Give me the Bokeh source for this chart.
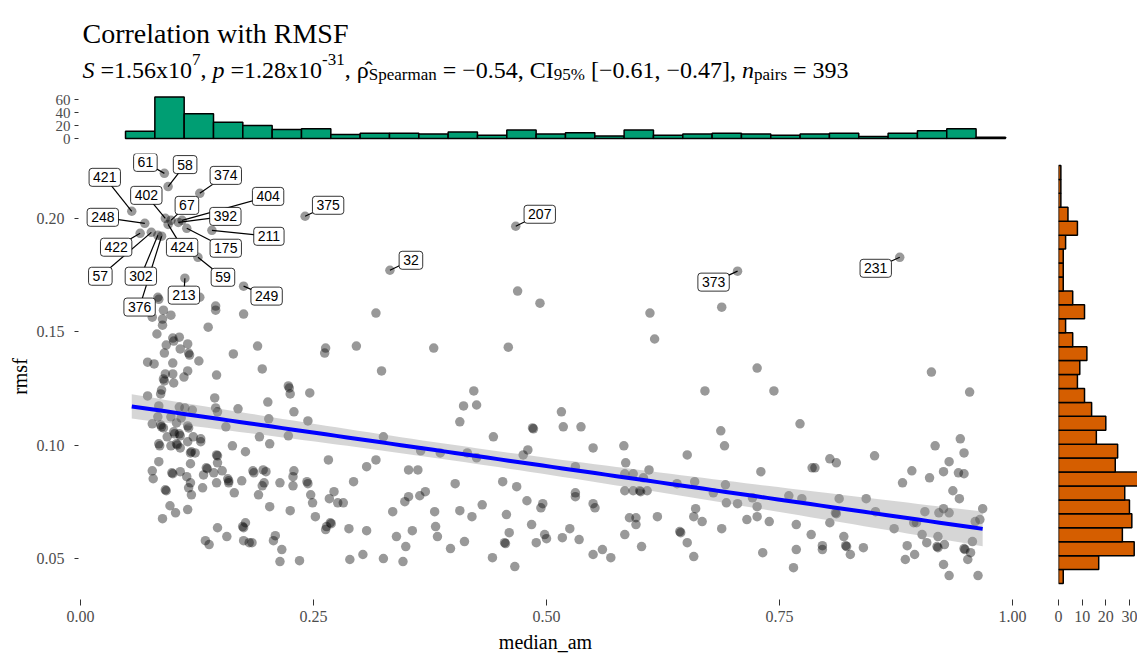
import numpy as np
from bokeh.plotting import figure
from bokeh.layouts import column, row
from bokeh.models import Range1d, FixedTicker, NumeralTickFormatter, Label
from bokeh.embed import file_html
from bokeh.resources import INLINE

# ---------------- data ----------------
# the first 24 points are the labelled ones (ids in label_ids)
label_ids = ["61", "58", "374", "421", "402", "67", "392", "404", "248", "424", "175", "211",
             "422", "57", "302", "376", "59", "213", "249", "375", "32", "207", "373", "231"]

median_am = [
    # labelled
    0.090, 0.094, 0.128, 0.055, 0.091, 0.097, 0.105, 0.109, 0.069, 0.094, 0.114, 0.141,
    0.064, 0.076, 0.083, 0.087, 0.126, 0.112, 0.175, 0.241, 0.332, 0.467, 0.705, 0.879,
    # upper-left
    0.083, 0.084, 0.128, 0.145, 0.145, 0.175, 0.089, 0.097, 0.077, 0.088, 0.088, 0.137, 0.317,
    0.082, 0.099, 0.106, 0.100, 0.092, 0.107, 0.115, 0.116, 0.117, 0.090,
    0.127, 0.072, 0.079, 0.099, 0.164, 0.115, 0.111, 0.099, 0.091, 0.089,
    0.090, 0.100, 0.146, 0.087, 0.086, 0.072, 0.144, 0.084, 0.106, 0.112,
    0.120, 0.145, 0.147, 0.169, 0.077, 0.083, 0.097, 0.108, 0.103, 0.086,
    0.087, 0.089, 0.115, 0.116, 0.156, 0.093, 0.100, 0.101, 0.106, 0.107,
    0.121, 0.129,
    # lower-left
    0.084, 0.085, 0.097, 0.103, 0.104, 0.107, 0.118, 0.119, 0.123, 0.115,
    0.129, 0.146, 0.147, 0.163, 0.177, 0.118, 0.084, 0.077, 0.078, 0.098,
    0.099, 0.107, 0.114, 0.135, 0.136, 0.132, 0.147, 0.143, 0.152, 0.146,
    0.158, 0.159, 0.159, 0.173, 0.165, 0.118, 0.116, 0.091, 0.092, 0.119,
    0.131, 0.096, 0.102, 0.088, 0.115, 0.147, 0.157, 0.134, 0.138, 0.177,
    0.174, 0.175, 0.175, 0.181,
    # 0.18 - 0.34
    0.190, 0.263, 0.262, 0.296, 0.195, 0.323, 0.223, 0.224, 0.225, 0.246,
    0.201, 0.229, 0.202, 0.244, 0.192, 0.203, 0.223, 0.325, 0.266, 0.307,
    0.317, 0.185, 0.186, 0.196, 0.199, 0.229, 0.228, 0.197, 0.195, 0.214,
    0.228, 0.243, 0.244, 0.191, 0.247, 0.249, 0.272, 0.267, 0.276, 0.282,
    0.293, 0.203, 0.225, 0.252, 0.268, 0.269, 0.264, 0.263, 0.288, 0.307,
    0.335, 0.339, 0.184, 0.209, 0.207, 0.216, 0.214, 0.235, 0.289, 0.303,
    0.325,
    # 0.34 - 0.70
    0.469, 0.493, 0.379, 0.459, 0.611, 0.616, 0.688, 0.422, 0.411, 0.425,
    0.407, 0.443, 0.485, 0.486, 0.516, 0.518, 0.537, 0.670, 0.687, 0.691,
    0.550, 0.583, 0.585, 0.651, 0.610, 0.593, 0.584, 0.365, 0.386, 0.415,
    0.425, 0.475, 0.480, 0.531, 0.352, 0.362, 0.402, 0.453, 0.468, 0.531,
    0.531, 0.550, 0.552, 0.584, 0.593, 0.600, 0.601, 0.608, 0.604, 0.640,
    0.659, 0.679, 0.692, 0.693, 0.348, 0.352, 0.364, 0.370, 0.380, 0.407,
    0.420, 0.431, 0.479, 0.494, 0.496, 0.457, 0.381, 0.383, 0.356, 0.349,
    0.346, 0.397, 0.412, 0.442, 0.466, 0.455, 0.456, 0.460, 0.484, 0.489,
    0.498, 0.500, 0.517, 0.525, 0.535, 0.550, 0.560, 0.569, 0.584, 0.589,
    0.596, 0.596, 0.602, 0.619, 0.643, 0.644, 0.651, 0.658, 0.660, 0.658,
    0.667, 0.688,
    # 0.70 - 0.97
    0.726, 0.744, 0.772, 0.913, 0.954, 0.730, 0.785, 0.788, 0.804, 0.811,
    0.852, 0.917, 0.944, 0.948, 0.932, 0.926, 0.942, 0.948, 0.892, 0.882,
    0.911, 0.936, 0.943, 0.705, 0.721, 0.726, 0.726, 0.715, 0.739, 0.760,
    0.774, 0.814, 0.843, 0.810, 0.811, 0.804, 0.768, 0.732, 0.768, 0.765,
    0.784, 0.796, 0.796, 0.819, 0.821, 0.822, 0.826, 0.840, 0.853, 0.873,
    0.887, 0.895, 0.885, 0.894, 0.897, 0.906, 0.903, 0.908, 0.920, 0.919,
    0.920, 0.927, 0.926, 0.932, 0.921, 0.926, 0.932, 0.948, 0.949, 0.955,
    0.952, 0.957, 0.960, 0.965, 0.968, 0.963,
]

rmsf = [
    # labelled
    0.2198, 0.2140, 0.2110, 0.2031, 0.2000, 0.1991, 0.1982, 0.1991, 0.1978, 0.1973, 0.1956, 0.1947,
    0.1934, 0.1938, 0.1925, 0.1921, 0.1828, 0.1736, 0.1701, 0.2009, 0.1771, 0.1965, 0.1767, 0.1828,
    # upper-left
    0.1652, 0.1643, 0.1652, 0.1613, 0.1595, 0.1578, 0.1595, 0.1573, 0.1564, 0.1556, 0.1529, 0.1520, 0.1582,
    0.1490, 0.1472, 0.1476, 0.1459, 0.1441, 0.1424, 0.1446, 0.1406, 0.1397, 0.1406,
    0.1371, 0.1366, 0.1358, 0.1362, 0.1402, 0.1327, 0.1300, 0.1314, 0.1314, 0.1292,
    0.1283, 0.1274, 0.1309, 0.1243, 0.1226, 0.1217, 0.1208, 0.1173, 0.1168, 0.1164,
    0.1155, 0.1164, 0.1147, 0.1160, 0.1094, 0.1125, 0.1125, 0.1120, 0.1098, 0.1089,
    0.1081, 0.1076, 0.1085, 0.1076, 0.1081, 0.1037, 0.1059, 0.1050, 0.1050, 0.1041,
    0.1037, 0.1028,
    # lower-left
    0.1006, 0.0997, 0.0997, 0.1006, 0.1001, 0.0988, 0.0966, 0.0971, 0.0966, 0.1015,
    0.1015, 0.0957, 0.0953, 0.0997, 0.0971, 0.0918, 0.0927, 0.0887, 0.0852, 0.0878,
    0.0874, 0.0883, 0.0861, 0.0900, 0.0896, 0.0869, 0.0922, 0.0878, 0.0887, 0.0834,
    0.0852, 0.0843, 0.0834, 0.0843, 0.0790, 0.0834, 0.0812, 0.0803, 0.0799, 0.0781,
    0.0812, 0.0733, 0.0702, 0.0676, 0.0716, 0.0636, 0.0597, 0.0579, 0.0562, 0.0658,
    0.0641, 0.0636, 0.0579, 0.0570,
    # 0.18 - 0.34
    0.1437, 0.1428, 0.1406, 0.1437, 0.1336, 0.1327, 0.1261, 0.1252, 0.1226, 0.1230,
    0.1190, 0.1147, 0.1116, 0.1107, 0.1037, 0.1006, 0.1041, 0.1037, 0.0935, 0.0905,
    0.0935, 0.0887, 0.0878, 0.0891, 0.0883, 0.0887, 0.0861, 0.0834, 0.0821, 0.0834,
    0.0821, 0.0839, 0.0830, 0.0781, 0.0781, 0.0746, 0.0795, 0.0764, 0.0746, 0.0746,
    0.0839, 0.0729, 0.0711, 0.0685, 0.0658, 0.0654, 0.0641, 0.0628, 0.0632, 0.0623,
    0.0707, 0.0597, 0.0570, 0.0601, 0.0579, 0.0540, 0.0487, 0.0491, 0.0496, 0.0518,
    0.0500,
    # 0.34 - 0.70
    0.1679, 0.1626, 0.1428, 0.1432, 0.1582, 0.1468, 0.1608, 0.1239, 0.1173, 0.1177,
    0.1103, 0.1037, 0.1076, 0.1072, 0.1147, 0.1081, 0.1081, 0.1239, 0.1063, 0.0997,
    0.0988, 0.0997, 0.0922, 0.0957, 0.0891, 0.0874, 0.0874, 0.0975, 0.0966, 0.0966,
    0.0944, 0.0957, 0.0979, 0.0905, 0.0891, 0.0891, 0.0830, 0.0839, 0.0817, 0.0790,
    0.0773, 0.0742, 0.0724, 0.0799, 0.0799, 0.0799, 0.0795, 0.0799, 0.0856, 0.0830,
    0.0839, 0.0790, 0.0825, 0.0746, 0.0751, 0.0773, 0.0777, 0.0795, 0.0707, 0.0711,
    0.0685, 0.0737, 0.0755, 0.0724, 0.0742, 0.0694, 0.0641, 0.0597, 0.0623, 0.0553,
    0.0487, 0.0544, 0.0575, 0.0504, 0.0465, 0.0570, 0.0566, 0.0614, 0.0650, 0.0570,
    0.0606, 0.0588, 0.0592, 0.0632, 0.0584, 0.0518, 0.0540, 0.0504, 0.0606, 0.0680,
    0.0680, 0.0650, 0.0553, 0.0685, 0.0619, 0.0614, 0.0570, 0.0509, 0.0720, 0.0685,
    0.0663, 0.0632,
    # 0.70 - 0.97
    0.1340, 0.1239, 0.1094, 0.1322, 0.1234, 0.0883, 0.0900, 0.0900, 0.0940, 0.0922,
    0.0953, 0.0997, 0.1028, 0.0966, 0.0927, 0.0883, 0.0878, 0.0874, 0.0887, 0.0834,
    0.0856, 0.0799, 0.0764, 0.0742, 0.0768, 0.0729, 0.0685, 0.0672, 0.0663, 0.0777,
    0.0764, 0.0764, 0.0764, 0.0702, 0.0698, 0.0658, 0.0650, 0.0526, 0.0540, 0.0460,
    0.0606, 0.0557, 0.0540, 0.0597, 0.0557, 0.0553, 0.0518, 0.0548, 0.0707, 0.0632,
    0.0557, 0.0518, 0.0496, 0.0658, 0.0658, 0.0707, 0.0606, 0.0570, 0.0597, 0.0553,
    0.0548, 0.0562, 0.0474, 0.0425, 0.0702, 0.0720, 0.0702, 0.0544, 0.0540, 0.0526,
    0.0496, 0.0575, 0.0663, 0.0672, 0.0720, 0.0425,
]

# marginal histogram counts (30 bins each)
top_counts = [11, 64, 38, 25, 20, 14, 15, 6, 8, 8, 7, 10, 5, 13, 7, 9, 4, 13, 5, 7,
              8, 7, 5, 7, 8, 3, 8, 12, 15, 2]
top_bin_start = 0.0483
top_bin_width = 0.03147

# listed from the lowest rmsf bin to the highest
right_counts = [2, 17, 32, 27, 31, 30, 28, 35, 24, 25, 16, 20, 14, 11, 8, 9, 12, 6, 3, 11,
                6, 2, 2, 2, 3, 8, 4, 1, 1, 1]
right_bin_start = 0.0390
right_bin_width = 0.006143

x_ticks = [0.0, 0.25, 0.5, 0.75, 1.0]
y_ticks = [0.05, 0.10, 0.15, 0.20]
top_ticks = [0, 20, 40, 60]
right_ticks = [0, 10, 20, 30]

title_text = "Correlation with RMSF"

# ---------------- layout / style ----------------
SERIF = "Liberation Serif"
SANS = "Liberation Sans"
TICK_COLOR = "#4D4D4D"
PX_PER_X = 932.0      # px per unit of median_am
PX_PER_Y = 2274.0     # px per unit of rmsf

# label box offsets from the labelled point (px, +dx right, +dy down), in label_ids order
label_dx = [-19, 17, 26, -27, -19, 16, 47, 86, -42, 14, 39, 57,
            -24, -51, -17, -22, 25, -1, 23, 23, 21, 24, -24, -24]
label_dy = [-11, -22, -18, -34, -23, -15, -6, -24, -6, 23, 20, 6,
            14, 44, 41, 71, 20, 17, 10, -11, -10, -12, 11, 11]


def style_axis(ax, tick_out=5, standoff=5):
    ax.axis_line_color = None
    ax.major_tick_line_color = "#333333"
    ax.major_tick_in = 0
    ax.major_tick_out = tick_out
    ax.minor_tick_line_color = None
    ax.major_label_text_font = SERIF
    ax.major_label_text_font_size = "16px"
    ax.major_label_text_color = TICK_COLOR
    ax.major_label_standoff = standoff
    ax.axis_label_text_font = SERIF
    ax.axis_label_text_font_size = "20px"
    ax.axis_label_text_font_style = "normal"
    ax.axis_label_text_color = "black"


def clean(p):
    p.xgrid.visible = False
    p.ygrid.visible = False
    p.outline_line_color = None
    p.background_fill_color = "white"
    p.border_fill_color = "white"


x_rng = Range1d(-0.00215, 1.0)
y_rng = Range1d(0.03197, 0.22856)

# ---------- top: title, subtitle, x marginal histogram ----------
pt = figure(width=1137, height=150, x_range=x_rng, y_range=Range1d(-4.615, 200.0),
            output_backend="svg", toolbar_location=None, title=None,
            x_axis_location=None, min_border_left=78, min_border_right=125,
            min_border_top=8, min_border_bottom=9)
clean(pt)
style_axis(pt.yaxis[0], tick_out=4, standoff=4)
pt.yaxis.ticker = FixedTicker(ticks=top_ticks)
pt.yaxis.major_label_text_font_size = "15px"

t_left = [top_bin_start + i * top_bin_width for i in range(len(top_counts))]
t_right = [v + top_bin_width for v in t_left]
pt.quad(left=t_left, right=t_right, bottom=0, top=top_counts,
        fill_color="#009E73", line_color="black", line_width=1.5)

pt.add_layout(Label(x=4, y=108, x_units="screen", y_units="screen", text=title_text,
                    text_font=SERIF, text_font_size="28px", text_color="black",
                    text_baseline="alphabetic", text_align="left"))

# subtitle built from runs (text, style, kind)
W = {' ': 0.25, '=': 0.564, '.': 0.25, ',': 0.25, 'x': 0.5, '\u2212': 0.564, '-': 0.333,
     '[': 0.333, ']': 0.333, '%': 0.833, 'C': 0.667, 'I': 0.333, 'S': 0.556, 'p': 0.5,
     'e': 0.444, 'a': 0.444, 'r': 0.333, 'm': 0.778, 'n': 0.5, 'i': 0.278, 's': 0.389,
     '\u03c1': 0.5, '\u0302': 0.0}
for d in "0123456789":
    W[d] = 0.5
WI = {'S': 0.5, 'p': 0.5, 'n': 0.5}

runs = [
    ("S", "italic", "n"), (" =1.56x10", "normal", "n"), ("7", "normal", "sup"),
    (", ", "normal", "n"), ("p", "italic", "n"), (" =1.28x10", "normal", "n"),
    ("-31", "normal", "sup"), (", ", "normal", "n"), ("\u03c1\u0302", "normal", "n"),
    ("Spearman", "normal", "sub"), (" = \u22120.54, CI", "normal", "n"),
    ("95%", "normal", "sub"), (" [\u22120.61, \u22120.47], ", "normal", "n"),
    ("n", "italic", "n"), ("pairs", "normal", "sub"), (" = 393", "normal", "n"),
]
fs = 24
fs_small = 17
sx = 4.0
base = 72.0
for text, fstyle, kind in runs:
    size = fs_small if kind != "n" else fs
    dy = 10 if kind == "sup" else (-5 if kind == "sub" else 0)
    table = WI if fstyle == "italic" else W
    lead = len(text) - len(text.lstrip(" "))
    shown = text.strip(" ")
    pt.add_layout(Label(x=sx + lead * W[" "] * size, y=base + dy, x_units="screen",
                        y_units="screen", text=shown,
                        text_font=SERIF, text_font_size=f"{size}px",
                        text_font_style=fstyle, text_color="black",
                        text_baseline="alphabetic", text_align="left"))
    sx += sum(table.get(c, W.get(c, 0.5)) for c in text) * size

# ---------- main scatter ----------
pm = figure(width=1045, height=505, x_range=x_rng, y_range=y_rng,
            output_backend="svg", toolbar_location=None, title=None,
            min_border_left=78, min_border_right=33, min_border_top=3, min_border_bottom=55)
clean(pm)
style_axis(pm.xaxis[0], tick_out=6, standoff=5)
style_axis(pm.yaxis[0], tick_out=4, standoff=10)
pm.xaxis.ticker = FixedTicker(ticks=x_ticks)
pm.yaxis.ticker = FixedTicker(ticks=y_ticks)
pm.xaxis.formatter = NumeralTickFormatter(format="0.00")
pm.yaxis.formatter = NumeralTickFormatter(format="0.00")
pm.xaxis.axis_label = "median_am"
pm.yaxis.axis_label = "rmsf"
pm.xaxis.axis_label_standoff = 6
pm.yaxis.axis_label_standoff = 3

pm.scatter(median_am, rmsf, size=9.5, fill_color="black", fill_alpha=0.4, line_color=None)

# linear fit with 95% confidence band
xs = np.array(median_am)
ys = np.array(rmsf)
slope, icpt = np.polyfit(xs, ys, 1)
n = len(xs)
xm = xs.mean()
resid = ys - (icpt + slope * xs)
s = np.sqrt(np.sum(resid ** 2) / (n - 2))
sxx = np.sum((xs - xm) ** 2)
xg = np.linspace(xs.min(), xs.max(), 80)
yhat = icpt + slope * xg
se = s * np.sqrt(1.0 / n + (xg - xm) ** 2 / sxx)
tval = 1.966
pm.varea(x=xg, y1=yhat - tval * se, y2=yhat + tval * se, fill_color="#999999", fill_alpha=0.4)
pm.line(xg, yhat, line_color="#0000FF", line_width=4)

# labels with leader segments
nl = len(label_ids)
lx = [median_am[i] + label_dx[i] / PX_PER_X for i in range(nl)]
ly = [rmsf[i] - label_dy[i] / PX_PER_Y for i in range(nl)]
pm.segment(x0=median_am[:nl], y0=rmsf[:nl], x1=lx, y1=ly, line_color="black", line_width=1.2)
for i in range(nl):
    pm.add_layout(Label(x=lx[i], y=ly[i], text=label_ids[i], text_align="center",
                        text_baseline="middle", text_font=SANS, text_font_size="14px",
                        text_color="black", background_fill_color="white",
                        border_line_color="black", border_line_width=0.8,
                        padding=4, border_radius=3))

# ---------- right marginal histogram ----------
pr = figure(width=92, height=505, x_range=Range1d(0, 33.4), y_range=y_rng,
            output_backend="svg", toolbar_location=None, title=None,
            y_axis_location=None, min_border_left=13, min_border_right=0,
            min_border_top=3, min_border_bottom=55)
clean(pr)
style_axis(pr.xaxis[0], tick_out=6, standoff=5)
pr.xaxis.ticker = FixedTicker(ticks=right_ticks)
r_bottom = [right_bin_start + i * right_bin_width for i in range(len(right_counts))]
r_top = [v + right_bin_width for v in r_bottom]
pr.quad(left=0, right=right_counts, bottom=r_bottom, top=r_top,
        fill_color="#D55E00", line_color="black", line_width=1.5)

layout = column(pt, row(pm, pr))
open("out.html", "w").write(file_html(layout, INLINE))
